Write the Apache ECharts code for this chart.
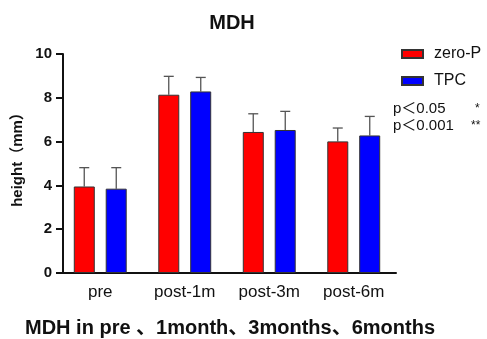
<!DOCTYPE html>
<html>
<head>
<meta charset="utf-8">
<script src="https://cdn.jsdelivr.net/npm/echarts@6/dist/echarts.min.js"></script>
<style>
    html, body { margin: 0; padding: 0; background: #fff; }
    #chart { width: 487px; height: 339px; }
</style>
</head>
<body>
<div id="chart"></div>
<script>
var categories = ["pre", "post-1m", "post-3m", "post-6m"];
var zeroP = [3.95, 8.14, 6.44, 6.01];
var zeroPSd = [0.86, 0.84, 0.83, 0.61];
var tpc = [3.85, 8.29, 6.53, 6.28];
var tpcSd = [0.96, 0.64, 0.85, 0.87];
var yTicks = [0, 2, 4, 6, 8, 10];

var font = "Liberation Sans, Arial, 'Noto Sans CJK SC', sans-serif";

// error bar, only the upper half like in the original
function errorBar(offset) {
    return function (params, api) {
        var top = api.coord([api.value(0), api.value(1) + api.value(2)]);
        var base = api.coord([api.value(0), api.value(1)]);
        var x = top[0] + offset;
        return {
            type: "group",
            children: [
                { type: "line", shape: { x1: x, y1: base[1], x2: x, y2: top[1] },
                  style: { stroke: "#555", lineWidth: 1.3 } },
                { type: "line", shape: { x1: x - 5, y1: top[1], x2: x + 5, y2: top[1] },
                  style: { stroke: "#555", lineWidth: 1.3 } }
            ]
        };
    };
}

function errData(vals, sd) {
    return vals.map(function (v, i) { return [i, v, sd[i]]; });
}

var chart = echarts.init(document.getElementById("chart"));
chart.setOption({
    animation: false,
    title: [
        {
            text: "MDH",
            left: 227,
            top: 8,
            textAlign: "center",
            textStyle: { fontFamily: font, fontSize: 20, fontWeight: "bold", color: "#111" }
        },
        {
            text: "MDH in pre 、1month、3months、6months",
            left: 20,
            top: 313,
            textStyle: { fontFamily: font, fontSize: 20, fontWeight: "bold", color: "#111" }
        }
    ],
    legend: {
        orient: "vertical",
        left: 401,
        top: 46,
        padding: 0,
        itemWidth: 21,
        itemHeight: 8,
        itemGap: 11,
        icon: "rect",
        data: ["zero-P", "TPC"],
        textStyle: { fontFamily: font, fontSize: 16, color: "#111", padding: [0, 0, 0, 6] }
    },
    graphic: [
        { type: "text", left: 393, top: 101, style: { text: "p＜0.05", font: "15px " + font, fill: "#111" } },
        { type: "text", left: 475, top: 103, style: { text: "*", font: "12px " + font, fill: "#111" } },
        { type: "text", left: 393, top: 118, style: { text: "p＜0.001", font: "15px " + font, fill: "#111" } },
        { type: "text", left: 471, top: 120, style: { text: "**", font: "12px " + font, fill: "#111" } },
        {
            type: "text", x: 18, y: 156, rotation: Math.PI / 2,
            style: {
                text: "height（mm）", font: "bold 15px " + font, fill: "#111",
                textAlign: "center", textVerticalAlign: "middle"
            }
        }
    ],
    grid: { left: 58, right: 91, top: 54, bottom: 66 },
    xAxis: {
        type: "category",
        data: categories,
        axisLine: { lineStyle: { color: "#111", width: 2 } },
        axisTick: { alignWithLabel: true, length: 7, lineStyle: { color: "#111", width: 2 } },
        axisLabel: { fontFamily: font, fontSize: 17, color: "#111", margin: 11 }
    },
    yAxis: {
        type: "value",
        min: 0,
        max: 10,
        interval: 2,
        offset: -5,
        axisLine: { show: true, lineStyle: { color: "#111", width: 2 } },
        axisTick: { show: true, length: 7, lineStyle: { color: "#111", width: 2 } },
        splitLine: { show: false },
        axisLabel: {
            fontFamily: font, fontSize: 15, fontWeight: "bold", color: "#111", margin: 11,
            formatter: function (v) { return yTicks.indexOf(v) >= 0 ? v : ""; }
        }
    },
    series: [
        {
            name: "zero-P",
            type: "bar",
            data: zeroP,
            barWidth: 21,
            barGap: "52%",
            itemStyle: { color: "#ff0000", borderColor: "#333", borderWidth: 1 }
        },
        {
            name: "TPC",
            type: "bar",
            data: tpc,
            barWidth: 21,
            itemStyle: { color: "#0000ff", borderColor: "#333", borderWidth: 1 }
        },
        {
            type: "custom",
            renderItem: errorBar(-16),
            data: errData(zeroP, zeroPSd),
            z: 1
        },
        {
            type: "custom",
            renderItem: errorBar(16),
            data: errData(tpc, tpcSd),
            z: 1
        }
    ]
});
</script>
</body>
</html>
